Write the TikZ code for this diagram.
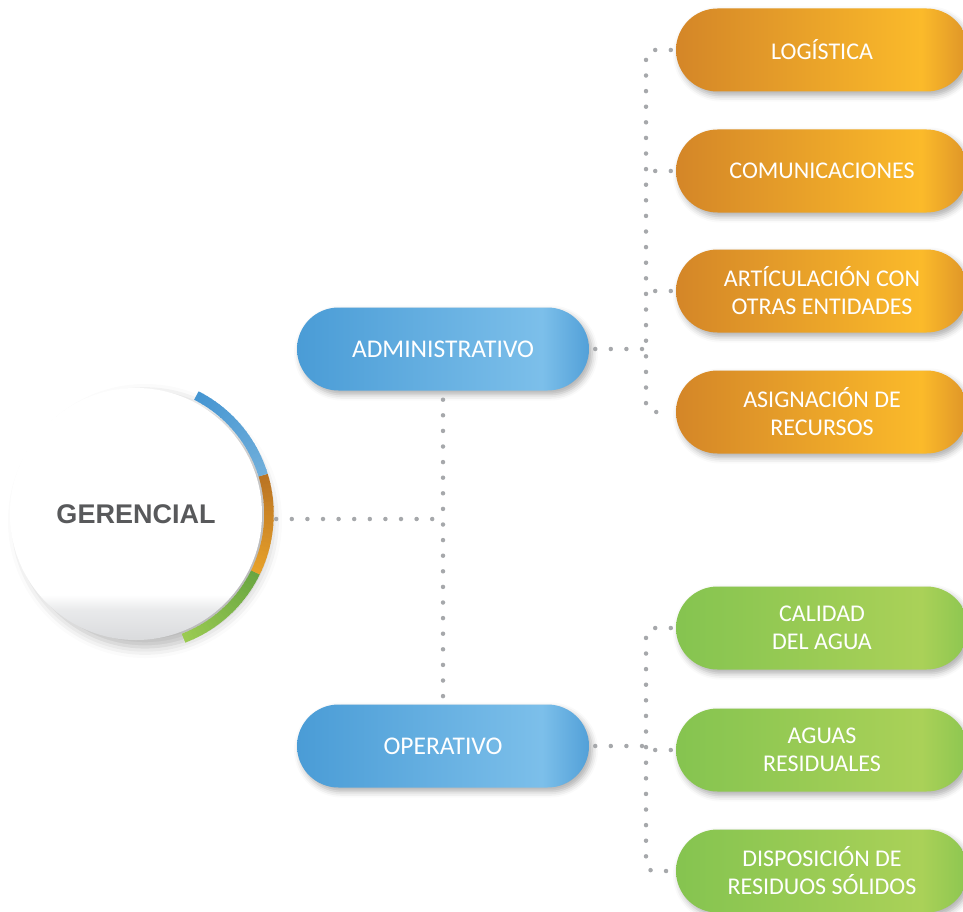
\documentclass[tikz,border=0pt]{standalone}
\usepackage{fontspec}
\setmainfont{Carlito}
\newfontfamily\gerfont{Liberation Sans}
\usetikzlibrary{shapes.misc,shadows.blur,calc}
\definecolor{orA}{RGB}{212,134,40}
\definecolor{orB}{RGB}{251,186,42}
\definecolor{orC}{RGB}{222,148,40}
\definecolor{blA}{RGB}{74,156,214}
\definecolor{blB}{RGB}{124,191,234}
\definecolor{blC}{RGB}{82,160,216}
\definecolor{grA}{RGB}{133,196,80}
\definecolor{grB}{RGB}{170,209,88}
\definecolor{grC}{RGB}{140,198,80}
\definecolor{dotgray}{RGB}{166,168,171}
\definecolor{gertext}{RGB}{88,89,91}
\definecolor{cgrayA}{RGB}{218,219,221}
\definecolor{cgrayB}{RGB}{233,234,235}
\definecolor{rbA}{RGB}{70,150,210}
\definecolor{rbB}{RGB}{112,174,218}
\definecolor{roA}{RGB}{186,116,36}
\definecolor{roB}{RGB}{232,162,42}
\definecolor{rgA}{RGB}{106,166,66}
\definecolor{rgB}{RGB}{156,204,82}
\pgfdeclarehorizontalshading{orangesh}{100bp}{color(0bp)=(orA); color(25bp)=(orA); color(67bp)=(orB); color(75bp)=(orC); color(100bp)=(orC)}
\pgfdeclarehorizontalshading{bluesh}{100bp}{color(0bp)=(blA); color(25bp)=(blA); color(67bp)=(blB); color(75bp)=(blC); color(100bp)=(blC)}
\pgfdeclarehorizontalshading{greensh}{100bp}{color(0bp)=(grA); color(25bp)=(grA); color(67bp)=(grB); color(75bp)=(grC); color(100bp)=(grC)}
\pgfdeclareverticalshading{circsh}{100bp}{color(0bp)=(cgrayA); color(25bp)=(cgrayA); color(31bp)=(cgrayB); color(34bp)=(white); color(100bp)=(white)}
\tikzset{
  pill/.style={rounded rectangle, minimum width=292pt, minimum height=83pt,
    inner sep=0pt, text=white, align=center, font=\fontsize{24}{28}\selectfont,
    blur shadow={shadow xshift=3pt, shadow yshift=-4pt, shadow blur radius=6pt, shadow opacity=32}},
  orangepill/.style={pill, shading=orangesh},
  greenpill/.style={pill, shading=greensh},
  bluepill/.style={pill, shading=bluesh, font=\fontsize{25.5}{30}\selectfont},
  dotline/.style={draw=dotgray, line width=4.5pt, line cap=round, dash pattern=on 0pt off 15.6pt},
  ring/.style={line width=9.5pt}
}
\begin{document}
\begin{tikzpicture}[x=1pt,y=1pt]
\useasboundingbox (0,0) rectangle (963,-912);
% central circle
\node[circle, minimum size=252pt, inner sep=0pt, shading=circsh,
  blur shadow={shadow xshift=9pt, shadow yshift=-7pt, shadow blur radius=11pt, shadow opacity=28},
  font=\gerfont\bfseries\fontsize{27}{27}\selectfont, text=gertext] (ger) at (136,-514) {GERENCIAL};
% coloured ring with gradients
\foreach \i in {0,...,22}{
  \pgfmathsetmacro\p{100-\i*100/22}
  \draw[ring, color=rbA!\p!rbB] (ger.center) ++({63-\i*2}:133) arc ({63-\i*2}:{max(17,63-\i*2-2.4)}:133);
  \draw[ring, color=roA!\p!roB] (ger.center) ++({17-\i*1.95}:133) arc ({17-\i*1.95}:{max(-26,17-\i*1.95-2.4)}:133);
  \draw[ring, color=rgA!\p!rgB] (ger.center) ++({-26-\i*1.95}:133) arc ({-26-\i*1.95}:{max(-69,-26-\i*1.95-2.4)}:133);
}
% second level
\node[bluepill] (adm) at (443,-349) {ADMINISTRATIVO};
\node[bluepill] (op) at (443,-746) {OPERATIVO};
% third level
\node[orangepill] (log) at (822,-50) {LOGÍSTICA};
\node[orangepill] (com) at (822,-171) {COMUNICACIONES};
\node[orangepill] (art) at (822,-291) {ARTÍCULACIÓN CON\\OTRAS ENTIDADES};
\node[orangepill] (asi) at (822,-412) {ASIGNACIÓN DE\\RECURSOS};
\node[greenpill] (cal) at (822,-628) {CALIDAD\\DEL AGUA};
\node[greenpill] (agu) at (822,-750) {AGUAS\\RESIDUALES};
\node[greenpill] (dis) at (822,-871) {DISPOSICIÓN DE\\RESIDUOS SÓLIDOS};
% connectors
\coordinate (j) at (443,-519);
\coordinate (ax) at (646,-349);
\coordinate (gx) at (646,-746);
\draw[dotline, shorten <=14pt] (ger.east |- j) -- (j);
\draw[dotline, shorten <=9pt, shorten >=8pt] (adm.south) -- (op.north);
\draw[dotline, shorten <=6pt] (adm.east) -- (ax);
\draw[dotline, shorten <=6pt] (op.east) -- (gx);
\draw[dotline, rounded corners=8pt, shorten <=5pt, shorten >=5pt] (log.west) -- (log.west -| ax) -- (asi.west -| ax) -- (asi.west);
\draw[dotline, shorten <=5pt] (com.west) -- (com.west -| ax);
\draw[dotline, shorten <=5pt] (art.west) -- (art.west -| ax);
\draw[dotline, rounded corners=8pt, shorten <=5pt, shorten >=5pt] (cal.west) -- (cal.west -| gx) -- (dis.west -| gx) -- (dis.west);
\draw[dotline, shorten <=5pt] (agu.west) -- (agu.west -| gx);
\end{tikzpicture}
\end{document}
